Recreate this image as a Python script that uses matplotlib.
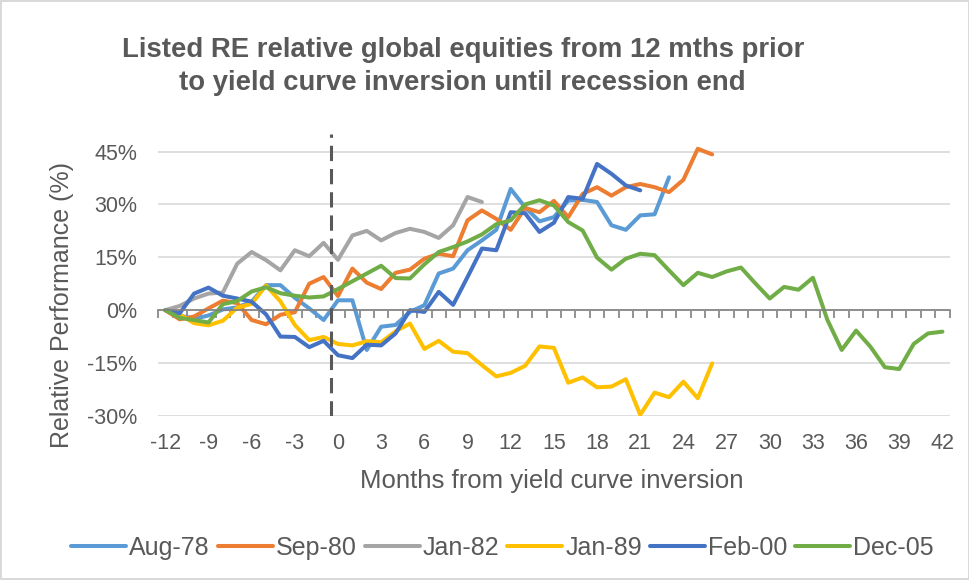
import numpy as np
import matplotlib
matplotlib.use('Agg')
import matplotlib.pyplot as plt

plt.rcParams['font.family'] = ['Liberation Sans', 'DejaVu Sans']

# ===== Data (relative performance, %, one value per month starting at -12) =====
START_MONTH = -12
series_names = ["Aug-78", "Sep-80", "Jan-82", "Jan-89", "Feb-00", "Dec-05"]
series_colors = ["#5B9BD5", "#ED7D31", "#A5A5A5", "#FFC000", "#4472C4", "#70AD47"]

aug78 = [0, -1.5, -2.5, -1.5, 0.2, 0.8, 2.4, 7.1, 7.1, 3.5, 0.5, -2.8, 2.8, 2.8,
         -11.3, -4.7, -4.2, -0.5, 1.4, 10.4, 11.8, 17.0, 19.8, 22.8, 34.4, 29.2,
         25.2, 26.4, 31.1, 31.3, 30.7, 24.1, 22.8, 26.9, 27.2, 37.7]
sep80 = [0, -2.6, -1.8, 0.5, 2.7, 2.0, -2.8, -4.0, -1.3, -0.6, 7.5, 9.4, 4.0, 11.8,
         7.8, 6.0, 10.6, 11.5, 14.6, 16.0, 15.3, 25.5, 28.3, 25.9, 22.8, 29.0, 27.8,
         31.0, 26.4, 33.0, 34.9, 32.5, 34.9, 35.8, 34.9, 33.5, 37.0, 45.8, 44.2]
jan82 = [0, 1.2, 3.3, 4.7, 5.0, 13.2, 16.5, 14.2, 11.3, 17.0, 15.3, 19.1, 14.3, 21.2,
         22.5, 19.8, 21.9, 23.1, 22.2, 20.5, 24.1, 32.1, 30.7]
jan89 = [0, -1.2, -3.7, -4.3, -3.0, 0.7, 1.8, 7.0, 2.5, -4.2, -8.5, -7.6, -9.6, -10.0,
         -8.8, -9.1, -6.0, -3.8, -11.0, -8.7, -11.8, -12.2, -15.6, -18.8, -17.8, -15.8,
         -10.3, -10.7, -20.6, -19.1, -21.9, -21.7, -19.6, -29.7, -23.4, -24.7, -20.3,
         -25.0, -15.1]
feb00 = [0, -0.9, 4.7, 6.4, 4.1, 3.3, 2.4, -1.2, -7.5, -7.6, -10.5, -8.7, -12.8, -13.6,
         -9.8, -10.0, -6.6, 0.0, -0.5, 5.2, 1.5, 9.4, 17.5, 17.0, 27.8, 27.5, 22.2, 24.8,
         32.1, 31.6, 41.5, 38.7, 35.4, 34.0]
dec05 = [0, -2.2, -2.8, -3.5, 1.7, 2.6, 5.3, 6.5, 4.8, 4.1, 3.6, 3.9, 6.0, 8.2, 10.4,
         12.6, 9.1, 9.0, 13.0, 16.5, 17.9, 19.5, 21.5, 24.4, 25.5, 30.0, 31.2, 29.7, 25.0,
         22.6, 14.9, 11.5, 14.6, 16.0, 15.6, 11.3, 7.1, 10.6, 9.4, 11.0, 12.1, 7.6, 3.3,
         6.6, 5.8, 9.2, -2.7, -11.3, -5.8, -10.4, -16.2, -16.7, -9.6, -6.6, -6.1]
all_series = [aug78, sep80, jan82, jan89, feb00, dec05]

x_tick_labels = list(range(-12, 43, 3))
y_ticks = [-30, -15, 0, 15, 30, 45]
inversion_line_x = -0.5
inversion_line_y = [-30, 50]

TEXT = "#595959"
GRID = "#D9D9D9"

# ===== Figure =====
fig = plt.figure(figsize=(9.7, 5.8), dpi=100, edgecolor=GRID, linewidth=1.5)
ax = fig.add_axes([0.163, 0.283, 0.816, 0.486])

for name, color, vals in zip(series_names, series_colors, all_series):
    months = np.arange(START_MONTH, START_MONTH + len(vals))
    ax.plot(months, vals, color=color, lw=2.9, label=name,
            solid_capstyle='round', solid_joinstyle='round')

ax.plot([inversion_line_x] * 2, inversion_line_y, color="#595959", lw=2.2,
        linestyle=(0, (5, 2.6)), zorder=5)

ax.set_xlim(-12.5, 42.5)
ax.set_ylim(-30, 50)

# y axis
ax.set_yticks(y_ticks)
ax.set_yticklabels([f"{v}%" for v in y_ticks])
ax.yaxis.grid(True, color=GRID, lw=1.2)
ax.set_axisbelow(True)
ax.tick_params(axis='y', length=0, pad=15, labelsize=15.5, labelcolor=TEXT)

for s in ['top', 'right', 'left']:
    ax.spines[s].set_visible(False)

# x axis line sits at 0, ticks between the monthly points
ax.spines['bottom'].set_position(('data', 0))
ax.spines['bottom'].set_color("#808080")
ax.spines['bottom'].set_linewidth(1.2)
ax.set_xticks(np.arange(-12.5, 43, 1))
ax.set_xticklabels([])
ax.tick_params(axis='x', direction='out', length=6, width=1.2, color="#808080")

# labels at the bottom of the plot area
sec = ax.secondary_xaxis(0)
sec.set_xticks(x_tick_labels)
sec.set_xticklabels([str(v) for v in x_tick_labels])
sec.tick_params(length=0, pad=12, labelsize=15.5, labelcolor=TEXT)
sec.spines['bottom'].set_visible(False)

fig.text(0.569, 1 - 481 / 580, "Months from yield curve inversion", ha='center',
         va='center', fontsize=18.5, color=TEXT)
fig.text(0.064, 1 - 305 / 580, "Relative Performance (%)", ha='center', va='center',
         rotation=90, fontsize=18, color=TEXT)

fig.text(0.477, 1 - 50 / 580, "Listed RE relative global equities from 12 mths prior",
         ha='center', va='center', fontsize=19.8, fontweight='bold', color=TEXT)
fig.text(0.477, 1 - 83 / 580, "to yield curve inversion until recession end",
         ha='center', va='center', fontsize=19.8, fontweight='bold', color=TEXT)

fig.legend(loc='center', bbox_to_anchor=(0.518, 1 - 548 / 580), ncol=6, frameon=False,
           fontsize=18, handlelength=2.2, handletextpad=0.12, columnspacing=0.32,
           labelcolor=TEXT)

plt.savefig("out.png", dpi=100, edgecolor=fig.get_edgecolor())
plt.close()
